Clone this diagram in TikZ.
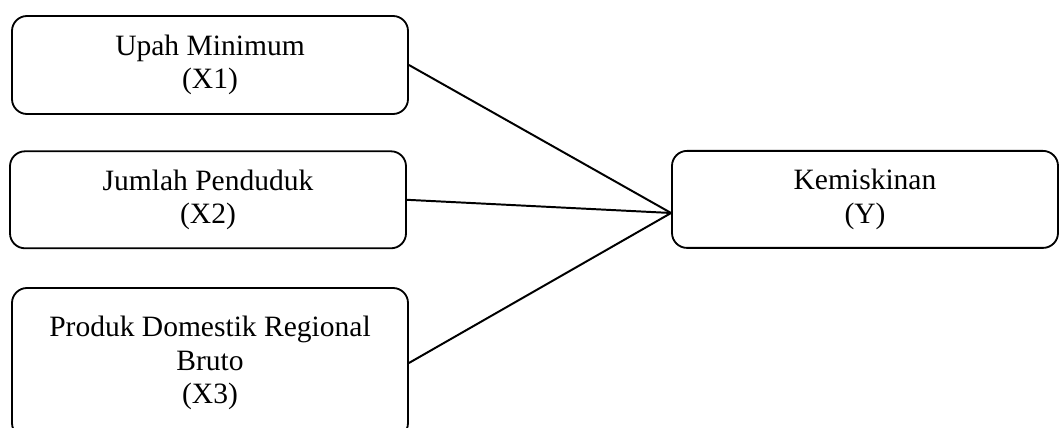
\documentclass[tikz,border=0pt]{standalone}
\usepackage{fontspec}
\setmainfont{Liberation Serif}
\begin{document}
\begin{tikzpicture}[
    varbox/.style={draw, line width=1.3pt, rounded corners=0.375cm,
      align=center, inner sep=0pt, font=\fontsize{21}{23.6}\selectfont},
    line width=1.4pt]
  \useasboundingbox (0,0) rectangle (26.5,10.675);
  \draw
    (5.25,9.05) node[varbox, minimum width=9.9cm, minimum height=2.45cm] (x1){Upah Minimum\\(X1)}
    (5.2,5.68) node[varbox, minimum width=9.9cm, minimum height=2.425cm] (x2){Jumlah Penduduk\\(X2)}
    (5.25,1.6) node[varbox, minimum width=9.9cm, minimum height=3.75cm] (x3){Produk Domestik Regional\\Bruto\\(X3)}
    (21.625,5.69) node[varbox, minimum width=9.65cm, minimum height=2.425cm] (y){Kemiskinan\\(Y)};
  \coordinate (yin) at ([yshift=-0.34cm]y.west);
  \begin{scope}[-]
    \draw (x1.east) to (yin);
    \draw (x2.east) to (yin);
    \draw (x3.east) to (yin);
  \end{scope}
\end{tikzpicture}
\end{document}
